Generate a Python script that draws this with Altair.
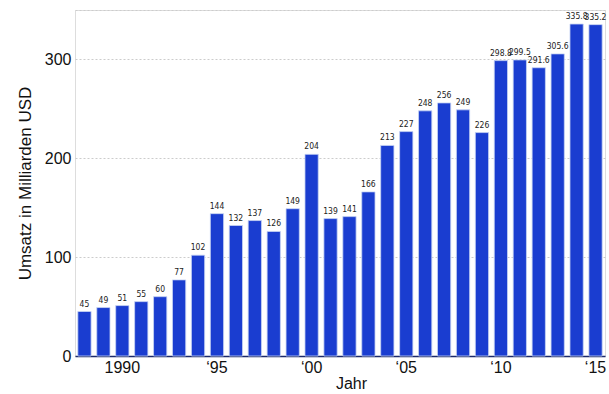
import altair as alt
import pandas as pd

years = list(range(1988, 2016))
umsatz = [45, 49, 51, 55, 60, 77, 102, 144, 132, 137, 126, 149, 204, 139,
          141, 166, 213, 227, 248, 256, 249, 226, 298.8, 299.5, 291.6, 305.6,
          335.8, 335.2]
labels = ["45", "49", "51", "55", "60", "77", "102", "144", "132", "137", "126",
          "149", "204", "139", "141", "166", "213", "227", "248", "256", "249",
          "226", "298.8", "299.5", "291.6", "305.6", "335.8", "335.2"]

df = pd.DataFrame({"Jahr": years, "Umsatz": umsatz, "Label": labels})

x_enc = alt.X(
    "Jahr:O",
    title="Jahr",
    scale=alt.Scale(paddingInner=0.3, paddingOuter=0.15),
    axis=alt.Axis(
        values=[1990, 1995, 2000, 2005, 2010, 2015],
        labelExpr="datum.value == 1990 ? '1990' : '\u2018' + substring(toString(datum.value), 2, 4)",
        labelAngle=0,
        ticks=False,
        domainColor="#1b2a6b",
        domainWidth=1.5,
        labelFont="Liberation Sans",
        labelFontSize=16,
        labelColor="#111111",
        labelPadding=3,
        titleFont="Liberation Sans",
        titleFontSize=16,
        titleFontWeight="normal",
        titleColor="#111111",
        titlePadding=0,
        titleX=276,
        titleAlign="center",
    ),
)

y_enc = alt.Y(
    "Umsatz:Q",
    title="Umsatz in Milliarden USD",
    scale=alt.Scale(domain=[0, 350], nice=False),
    axis=alt.Axis(
        values=[0, 100, 200, 300, 350],
        labelExpr="datum.value == 350 ? '' : datum.label",
        domain=False,
        ticks=False,
        grid=True,
        gridColor="#cccccc",
        gridDash=[2, 2],
        gridWidth=1,
        labelFont="Liberation Sans",
        labelFontSize=16,
        labelColor="#111111",
        labelPadding=4,
        titleFont="Liberation Sans",
        titleFontSize=17,
        titleFontWeight="normal",
        titleColor="#111111",
        titlePadding=10,
    ),
)

bars = alt.Chart(df).mark_bar(
    color="#1a3dd0", stroke="#c8d4f4", strokeWidth=0.8
).encode(x=x_enc, y=y_enc)

text = alt.Chart(df).mark_text(
    dy=-8, font="DejaVu Sans Condensed", fontSize=8.5, color="#222222"
).encode(x="Jahr:O", y="Umsatz:Q", text="Label:N")

chart = (
    (bars + text)
    .properties(
        width=530,
        height=346,
        autosize=alt.AutoSizeParams(type="none"),
        padding={"left": 75, "top": 10, "right": 4, "bottom": 38},
    )
    .configure_view(stroke=None)
    .configure(background="white")
)

chart.save("out.html", embed_options={"renderer": "svg", "actions": False})
